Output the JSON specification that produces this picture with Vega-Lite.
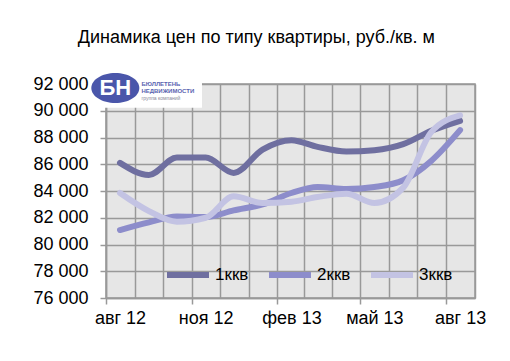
{
  "$schema": "https://vega.github.io/schema/vega-lite/v6.json",
  "width": 369,
  "height": 214,
  "autosize": {"type": "none"},
  "padding": {"left": 106, "top": 84, "right": 35, "bottom": 63},
  "background": "white",
  "title": {
    "text": "Динамика цен по типу квартиры, руб./кв. м",
    "font": "Liberation Sans",
    "fontSize": 18,
    "fontWeight": "normal",
    "color": "#000000",
    "anchor": "middle",
    "frame": "bounds",
    "dx": -3,
    "offset": 26
  },
  "config": {
    "view": {"fill": "#e6e6e6", "stroke": "#999999", "strokeWidth": 1.5},
    "axis": {"labelFont": "Liberation Sans", "labelColor": "#000000"}
  },
  "datasets": {
    "prices": [
      {"date": "2012-08-16T00:00:00", "series": "1ккв", "price": 86100},
      {"date": "2012-09-16T00:00:00", "series": "1ккв", "price": 85200},
      {"date": "2012-10-16T00:00:00", "series": "1ккв", "price": 86500},
      {"date": "2012-11-16T00:00:00", "series": "1ккв", "price": 86500},
      {"date": "2012-12-16T00:00:00", "series": "1ккв", "price": 85350},
      {"date": "2013-01-16T00:00:00", "series": "1ккв", "price": 87100},
      {"date": "2013-02-16T00:00:00", "series": "1ккв", "price": 87800},
      {"date": "2013-03-16T00:00:00", "series": "1ккв", "price": 87300},
      {"date": "2013-04-16T00:00:00", "series": "1ккв", "price": 86950},
      {"date": "2013-05-16T00:00:00", "series": "1ккв", "price": 87050},
      {"date": "2013-06-16T00:00:00", "series": "1ккв", "price": 87500},
      {"date": "2013-07-16T00:00:00", "series": "1ккв", "price": 88500},
      {"date": "2013-08-16T00:00:00", "series": "1ккв", "price": 89250},
      {"date": "2012-08-16T00:00:00", "series": "2ккв", "price": 81080},
      {"date": "2012-09-16T00:00:00", "series": "2ккв", "price": 81650},
      {"date": "2012-10-16T00:00:00", "series": "2ккв", "price": 82100},
      {"date": "2012-11-16T00:00:00", "series": "2ккв", "price": 82050},
      {"date": "2012-12-16T00:00:00", "series": "2ккв", "price": 82550},
      {"date": "2013-01-16T00:00:00", "series": "2ккв", "price": 83000},
      {"date": "2013-02-16T00:00:00", "series": "2ккв", "price": 83850},
      {"date": "2013-03-16T00:00:00", "series": "2ккв", "price": 84300},
      {"date": "2013-04-16T00:00:00", "series": "2ккв", "price": 84150},
      {"date": "2013-05-16T00:00:00", "series": "2ккв", "price": 84300},
      {"date": "2013-06-16T00:00:00", "series": "2ккв", "price": 84800},
      {"date": "2013-07-16T00:00:00", "series": "2ккв", "price": 86250},
      {"date": "2013-08-16T00:00:00", "series": "2ккв", "price": 88550},
      {"date": "2012-08-16T00:00:00", "series": "3ккв", "price": 83850},
      {"date": "2012-09-16T00:00:00", "series": "3ккв", "price": 82500},
      {"date": "2012-10-16T00:00:00", "series": "3ккв", "price": 81700},
      {"date": "2012-11-16T00:00:00", "series": "3ккв", "price": 82000},
      {"date": "2012-12-16T00:00:00", "series": "3ккв", "price": 83600},
      {"date": "2013-01-16T00:00:00", "series": "3ккв", "price": 83100},
      {"date": "2013-02-16T00:00:00", "series": "3ккв", "price": 83200},
      {"date": "2013-03-16T00:00:00", "series": "3ккв", "price": 83550},
      {"date": "2013-04-16T00:00:00", "series": "3ккв", "price": 83800},
      {"date": "2013-05-16T00:00:00", "series": "3ккв", "price": 83100},
      {"date": "2013-06-16T00:00:00", "series": "3ккв", "price": 84250},
      {"date": "2013-07-16T00:00:00", "series": "3ккв", "price": 88400},
      {"date": "2013-08-16T00:00:00", "series": "3ккв", "price": 89650}
    ],
    "logo": [
      {"from": "2012-07-20T00:00:00", "to": "2012-11-12T00:00:00", "low": 90220, "high": 92150, "label": "БН", "line1": "БЮЛЛЕТЕНЬ", "line2": "НЕДВИЖИМОСТИ", "line3": "группа компаний", "center": "2012-08-11T00:00:00", "mid": 91700, "textDate": "2012-09-08T00:00:00"}
    ]
  },
  "resolve": {"axis": {"x": "independent", "y": "independent"}},
  "layer": [
    {
      "data": {"name": "prices"},
      "mark": {"type": "line", "strokeWidth": 6, "interpolate": "monotone", "strokeCap": "round"},
      "encoding": {
        "x": {
          "field": "date",
          "type": "temporal",
          "scale": {"domain": [{"year": 2012, "month": 8, "date": 1}, {"year": 2013, "month": 9, "date": 1}]},
          "axis": {
            "orient": "bottom",
            "title": null,
            "grid": true,
            "gridColor": "#999999",
            "gridWidth": 1.5,
            "labels": false,
            "ticks": false,
            "domain": false,
            "values": [
              {"year": 2012, "month": 8, "date": 1}, {"year": 2012, "month": 9, "date": 1},
              {"year": 2012, "month": 10, "date": 1}, {"year": 2012, "month": 11, "date": 1},
              {"year": 2012, "month": 12, "date": 1}, {"year": 2013, "month": 1, "date": 1},
              {"year": 2013, "month": 2, "date": 1}, {"year": 2013, "month": 3, "date": 1},
              {"year": 2013, "month": 4, "date": 1}, {"year": 2013, "month": 5, "date": 1},
              {"year": 2013, "month": 6, "date": 1}, {"year": 2013, "month": 7, "date": 1},
              {"year": 2013, "month": 8, "date": 1}, {"year": 2013, "month": 9, "date": 1}
            ]
          }
        },
        "y": {
          "field": "price",
          "type": "quantitative",
          "scale": {"domain": [76000, 92000], "nice": false, "zero": false},
          "axis": {
            "title": null,
            "values": [76000, 78000, 80000, 82000, 84000, 86000, 88000, 90000, 92000],
            "grid": true,
            "gridColor": "#999999",
            "gridWidth": 1.5,
            "domainColor": "#999999",
            "domainWidth": 1.5,
            "tickColor": "#999999",
            "tickSize": 6,
            "tickWidth": 1.5,
            "labelFontSize": 18,
            "labelPadding": 12,
            "labelExpr": "replace(format(datum.value, ',d'), ',', ' ')"
          }
        },
        "color": {
          "field": "series",
          "type": "nominal",
          "scale": {"domain": ["1ккв", "2ккв", "3ккв"], "range": ["#6f6fa0", "#8d8dcb", "#c3c3e3"]},
          "legend": {
            "title": null,
            "orient": "none",
            "legendX": 58,
            "legendY": 167,
            "direction": "horizontal",
            "columns": 3,
            "columnPadding": 8,
            "symbolType": "stroke",
            "symbolSize": 1764,
            "symbolStrokeWidth": 6,
            "labelFont": "Liberation Sans",
            "labelFontSize": 17,
            "labelColor": "#000000",
            "labelOffset": 3
          }
        }
      }
    },
    {
      "data": {"name": "logo"},
      "mark": {"type": "rect", "fill": "white"},
      "encoding": {
        "x": {
          "field": "from",
          "type": "temporal",
          "axis": {
            "orient": "bottom",
            "title": null,
            "grid": false,
            "domain": true,
            "domainColor": "#999999",
            "domainWidth": 1.5,
            "tickColor": "#999999",
            "tickSize": 6,
            "tickWidth": 1.5,
            "labelFontSize": 18,
            "labelPadding": 5,
            "labelOffset": 14,
            "labelAlign": "center",
            "values": [
              {"year": 2012, "month": 8, "date": 1}, {"year": 2012, "month": 11, "date": 1},
              {"year": 2013, "month": 2, "date": 1}, {"year": 2013, "month": 5, "date": 1},
              {"year": 2013, "month": 8, "date": 1}
            ],
            "labelExpr": "['янв','фев','мар','апр','май','июн','июл','авг','сен','окт','ноя','дек'][month(datum.value)] + ' ' + timeFormat(datum.value, '%y')"
          }
        },
        "x2": {"field": "to"},
        "y": {"field": "low", "type": "quantitative", "axis": null},
        "y2": {"field": "high"}
      }
    },
    {
      "data": {"name": "logo"},
      "mark": {"type": "point", "shape": "M-1.6,0 A1.6,1 0 1,0 1.6,0 A1.6,1 0 1,0 -1.6,0 Z", "filled": true, "color": "#4a56aa", "size": 900, "opacity": 1},
      "encoding": {
        "x": {"field": "center", "type": "temporal", "axis": null},
        "y": {"field": "mid", "type": "quantitative", "axis": null}
      }
    },
    {
      "data": {"name": "logo"},
      "mark": {"type": "text", "font": "Liberation Sans", "fontWeight": "bold", "fontSize": 22, "color": "white", "align": "center", "baseline": "middle"},
      "encoding": {
        "x": {"field": "center", "type": "temporal", "axis": null},
        "y": {"field": "mid", "type": "quantitative", "axis": null},
        "text": {"field": "label"}
      }
    },
    {
      "data": {"name": "logo"},
      "mark": {"type": "text", "font": "Liberation Sans", "fontWeight": "bold", "fontSize": 6, "color": "#5a64b0", "align": "left", "baseline": "bottom", "dy": -1},
      "encoding": {
        "x": {"field": "textDate", "type": "temporal", "axis": null},
        "y": {"field": "mid", "type": "quantitative", "axis": null},
        "text": {"field": "line1"}
      }
    },
    {
      "data": {"name": "logo"},
      "mark": {"type": "text", "font": "Liberation Sans", "fontWeight": "bold", "fontSize": 6, "color": "#5a64b0", "align": "left", "baseline": "top", "dy": 0},
      "encoding": {
        "x": {"field": "textDate", "type": "temporal", "axis": null},
        "y": {"field": "mid", "type": "quantitative", "axis": null},
        "text": {"field": "line2"}
      }
    },
    {
      "data": {"name": "logo"},
      "mark": {"type": "text", "font": "Liberation Sans", "fontSize": 5, "color": "#8a8a9a", "align": "left", "baseline": "top", "dy": 8},
      "encoding": {
        "x": {"field": "textDate", "type": "temporal", "axis": null},
        "y": {"field": "mid", "type": "quantitative", "axis": null},
        "text": {"field": "line3"}
      }
    }
  ]
}
